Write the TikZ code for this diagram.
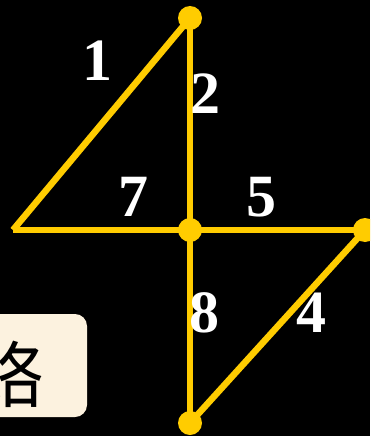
\documentclass[tikz,border=0pt]{standalone}
\usepackage{fontspec}
\setmainfont{Liberation Serif}
\newfontfamily\cjk{Noto Sans CJK SC}
\definecolor{lineyel}{HTML}{FFCC00}
\definecolor{boxcream}{HTML}{FCF2DF}
\begin{document}
\begin{tikzpicture}[x=1pt,y=-1pt,
  seg/.style={draw=lineyel,line width=6.5pt},
  dotnode/.style={circle,fill=lineyel,inner sep=0pt,minimum size=24pt},
  num/.style={text=white,font=\bfseries\fontsize{60}{60}\selectfont,inner sep=0pt}]
\fill[black] (0,0) rectangle (370,436);
\useasboundingbox (0,0) rectangle (370,436);
\clip (0,0) rectangle (370,436);
% box
\fill[boxcream,rounded corners=12pt] (-20,314) rectangle (87,417);
\node[anchor=east,inner sep=0pt,font=\cjk\fontsize{72}{72}\selectfont] (txt) at (45,374) {络};
% points
\coordinate (L) at (13,230);
\coordinate (T) at (190,18);
\coordinate (C) at (190,230);
\coordinate (R) at (365,230);
\coordinate (B) at (190,423);
\draw[seg] (L) -- (T);
\draw[seg] (T) -- (C);
\draw[seg] (L) -- (C);
\draw[seg] (C) -- (R);
\draw[seg] (R) -- (B);
\draw[seg] (C) -- (B);
\node[dotnode] (dT) at (T) {};
\node[dotnode] (dC) at (C) {};
\node[dotnode] (dR) at (R) {};
\node[dotnode] (dB) at (B) {};
% labels
\node[num] (n1) at (97,61) {1};
\node[num] (n2) at (205,94) {2};
\node[num] (n7) at (133,197) {7};
\node[num] (n5) at (261,197) {5};
\node[num] (n8) at (204,313) {8};
\node[num] (n4) at (311,313) {4};
\end{tikzpicture}
\end{document}
